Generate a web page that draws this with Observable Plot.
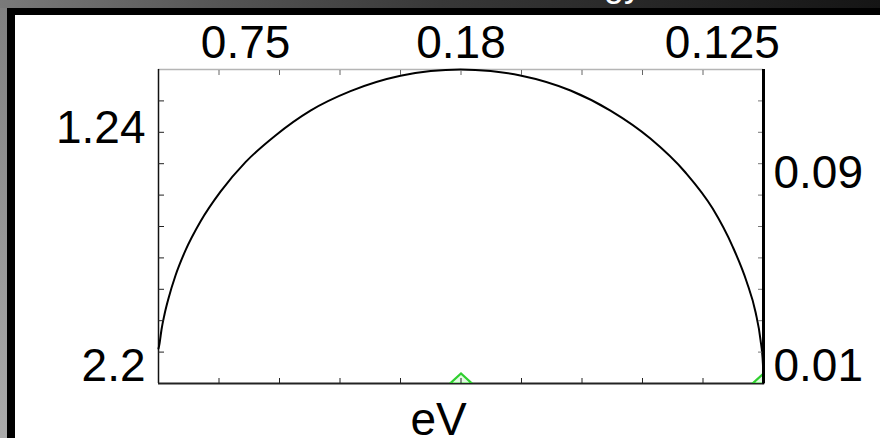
<!DOCTYPE html>
<html>
<head>
<meta charset="utf-8">
<script src="https://cdn.jsdelivr.net/npm/d3@7"></script>
<script src="https://cdn.jsdelivr.net/npm/@observablehq/plot@0.6"></script>
<style>
  html, body { margin: 0; padding: 0; }
  #page {
    position: relative; width: 880px; height: 438px; overflow: hidden;
    background: linear-gradient(to right, #7a7a7a 0%, #555 25%, #383838 50%, #262626 75%, #151515 100%);
    font-family: "Liberation Sans", Arial, sans-serif;
  }
  #leftStrip {
    position: absolute; left: 0; top: 8px; width: 7px; bottom: 0;
    background: linear-gradient(to bottom, #808080, #ababab);
  }
  #title {
    position: absolute; left: 0; top: 0; width: 880px; height: 8px; overflow: hidden;
  }
  #panel {
    position: absolute; left: 7px; top: 8px; right: 0; bottom: 0;
    border-left: 8px solid #000; border-top: 7px solid #000; background: #fff;
  }
</style>
</head>
<body>
<div id="page">
  <div id="leftStrip"></div>
  <svg id="title" width="880" height="8"><text x="642" y="-4" text-anchor="end" fill="#fff" font-size="36" font-family="Liberation Sans, Arial, sans-serif">Energy</text></svg>
  <div id="panel"></div>
</div>
<script>
// Inward tick positions along each edge of the frame
const xTicks = [1, 2, 3, 4, 5, 6, 7, 8, 9];
const yTicks = [1, 2, 3, 4, 5, 6, 7, 8, 9];

// Edge labels and where they sit
const topLabels = ["0.75", "0.18", "0.125"];
const topLabelPos = [1.44, 5.0, 9.32];
const leftLabels = ["1.24", "2.2"];
const leftLabelPos = [8.12, 0.54];
const rightLabels = ["0.09", "0.01"];
const rightLabelPos = [6.69, 0.54];
const xTitle = "eV";
const xTitlePos = 4.63;

// The arc
const curveX = [0, 0.017, 0.05, 0.099, 0.165, 0.281, 0.446, 0.694, 1.025, 1.438, 1.934, 2.512, 3.174, 4.0, 4.5, 4.99,
                5.49, 5.98, 6.81, 7.47, 8.13, 8.71, 9.16, 9.49, 9.72, 9.87, 9.95, 9.99, 10];
const curveY = [1.11, 1.27, 1.72, 2.2, 2.71, 3.44, 4.24, 5.16, 6.11, 7.05, 7.9, 8.69, 9.31, 9.8, 9.95, 10.0,
                9.95, 9.81, 9.33, 8.69, 7.8, 6.72, 5.57, 4.36, 3.25, 2.26, 1.4, 0.64, 0];

// Markers on the baseline
const markerX = [5, 10];
const markerY = [0, 0];

const curve = curveX.map((x, i) => ({x, y: curveY[i]}));
const markers = markerX.map((x, i) => ({x, y: markerY[i]}));
const topMap = new Map(topLabelPos.map((p, i) => [p, topLabels[i]]));
const leftMap = new Map(leftLabelPos.map((p, i) => [p, leftLabels[i]]));
const rightMap = new Map(rightLabelPos.map((p, i) => [p, rightLabels[i]]));

// Flat upward triangle sitting on its base
const flatTriangle = {
  draw(ctx) {
    ctx.moveTo(-11, 0);
    ctx.lineTo(11, 0);
    ctx.lineTo(0, -10);
    ctx.closePath();
  }
};

const blank = () => "";
const fontSize = 46;

const chart = Plot.plot({
  width: 865,
  height: 423,
  marginLeft: 143,
  marginRight: 117,
  marginTop: 54,
  marginBottom: 55,
  x: {domain: [0, 10]},
  y: {domain: [0, 10]},
  style: {fontFamily: "Liberation Sans, Arial, sans-serif", color: "#000", background: "#fff", overflow: "visible"},
  marks: [
    // frame edges
    Plot.ruleY([10], {stroke: "#b5b5b5", strokeWidth: 1.5}),
    Plot.ruleX([0], {stroke: "#111", strokeWidth: 1.5}),
    Plot.ruleY([0], {stroke: "#222", strokeWidth: 2}),
    // the arc
    Plot.line(curve, {x: "x", y: "y", curve: "monotone-x", stroke: "#000", strokeWidth: 2}),
    // baseline markers
    Plot.dot(markers, {x: "x", y: "y", symbol: flatTriangle, r: 5, stroke: "#2fcf2f", fill: "#e4fbe4", strokeWidth: 2.2, clip: true}),
    // inward ticks
    Plot.axisX(xTicks, {anchor: "bottom", tickSize: 5, dy: -5, tickFormat: blank, label: null, stroke: "#222"}),
    Plot.axisX(xTicks, {anchor: "top", tickSize: 5, dy: 5, tickFormat: blank, label: null, stroke: "#666"}),
    Plot.axisY(yTicks, {anchor: "left", tickSize: 6, dx: 6, tickFormat: blank, label: null, stroke: "#222"}),
    Plot.axisY(yTicks, {anchor: "right", tickSize: 6, dx: -6, tickFormat: blank, label: null, stroke: "#777"}),
    // right edge
    Plot.ruleX([10], {stroke: "#000", strokeWidth: 3}),
    // labels
    Plot.axisX(topLabelPos, {anchor: "top", tickSize: 0, tickPadding: 12, tickFormat: d => topMap.get(d), label: null, fontSize}),
    Plot.axisY(leftLabelPos, {anchor: "left", tickSize: 0, tickPadding: 13, tickFormat: d => leftMap.get(d), label: null, fontSize}),
    Plot.axisY(rightLabelPos, {anchor: "right", tickSize: 0, tickPadding: 10, tickFormat: d => rightMap.get(d), label: null, fontSize}),
    Plot.text([{x: xTitlePos, t: xTitle}], {x: "x", text: "t", frameAnchor: "bottom", lineAnchor: "bottom", dy: 51, fontSize, fill: "#000"})
  ]
});

document.getElementById("panel").appendChild(chart);
</script>
</body>
</html>
